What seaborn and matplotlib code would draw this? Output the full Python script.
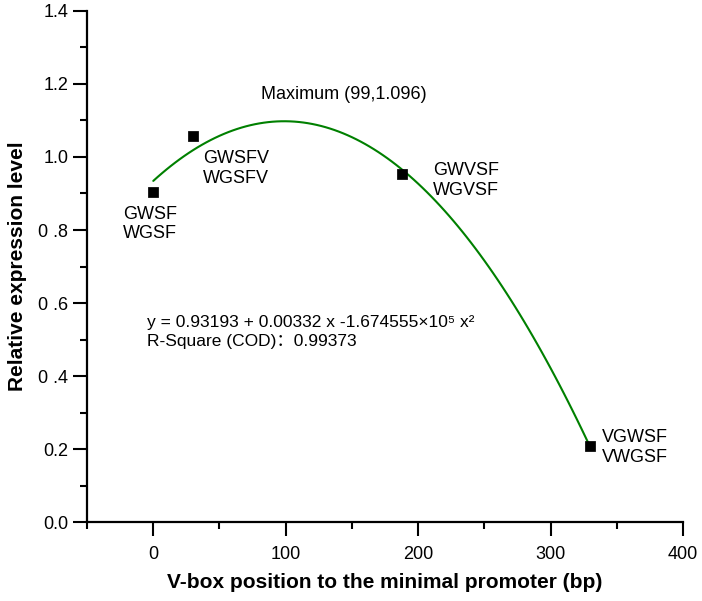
import numpy as np
import pandas as pd
import matplotlib
matplotlib.use("Agg")
import matplotlib.pyplot as plt
from matplotlib.ticker import MultipleLocator, FixedLocator
import seaborn as sns

# data
position = [0, 30, 188, 330]
expression = [0.905, 1.057, 0.952, 0.209]
point_labels = ["GWSF\nWGSF", "GWSFV\nWGSFV", "GWVSF\nWGVSF", "VGWSF\nVWGSF"]
y_ticks = [0.0, 0.2, 0.4, 0.6, 0.8, 1.0, 1.2, 1.4]
y_ticklabels = ["0.0", "0.2", "0 .4", "0 .6", "0 .8", "1.0", "1.2", "1.4"]
x_ticks = [0, 100, 200, 300, 400]

df = pd.DataFrame({"pos": position, "expr": expression})

sns.set_style("ticks")
plt.rcParams["font.family"] = ["Liberation Sans", "Noto Sans CJK SC", "DejaVu Sans"]
plt.rcParams["text.color"] = "black"
plt.rcParams["axes.labelcolor"] = "black"
plt.rcParams["xtick.color"] = "black"
plt.rcParams["ytick.color"] = "black"
plt.rcParams["axes.edgecolor"] = "black"

fig = plt.figure(figsize=(7.02, 6.01), dpi=100)
ax = fig.add_axes([0.124, 0.131, 0.849, 0.851])

# quadratic fit line
sns.regplot(data=df, x="pos", y="expr", order=2, ci=None, scatter=False,
            line_kws={"color": "#008000", "lw": 1.5}, ax=ax)
sns.scatterplot(data=df, x="pos", y="expr", marker="s", s=45, color="black",
                edgecolor="black", ax=ax, zorder=5)

ax.set_xlim(-50, 400)
ax.set_ylim(0, 1.4)
ax.set_xticks(x_ticks)
ax.set_xticklabels([str(t) for t in x_ticks])
ax.xaxis.set_minor_locator(FixedLocator([-50, 50, 150, 250, 350]))
ax.set_yticks(y_ticks)
ax.set_yticklabels(y_ticklabels)
ax.yaxis.set_minor_locator(MultipleLocator(0.1))

for side in ["top", "right"]:
    ax.spines[side].set_visible(False)
for side in ["left", "bottom"]:
    ax.spines[side].set_linewidth(1.6)
ax.tick_params(which="major", length=10, width=1.5, labelsize=13, direction="out")
ax.tick_params(which="minor", length=5, width=1.5, direction="out")
ax.tick_params(axis="x", which="major", pad=7)

ax.set_xlabel("V-box position to the minimal promoter (bp)", fontsize=15,
              fontweight="bold", labelpad=7)
ax.set_ylabel("Relative expression level", fontsize=15, fontweight="bold", labelpad=8)

# point labels
offsets = [(-22, -10), (7, -10), (22, 9), (8, 12)]
for (px, py), lab, off in zip(zip(position, expression), point_labels, offsets):
    ax.annotate(lab, (px, py), xytext=off, textcoords="offset points",
                fontsize=13, ha="left", va="top", linespacing=1.2)

ax.text(0.43, 0.836, "Maximum (99,1.096)", transform=ax.transAxes, fontsize=13,
        ha="center", va="center")
ax.text(0.1, 0.372, "y = 0.93193 + 0.00332 x -1.674555×10\u2075 x\u00b2\nR-Square (COD)\uff1a0.99373",
        transform=ax.transAxes, fontsize=12.5, ha="left", va="center", linespacing=1.35)

fig.savefig("out.png", dpi=100)
